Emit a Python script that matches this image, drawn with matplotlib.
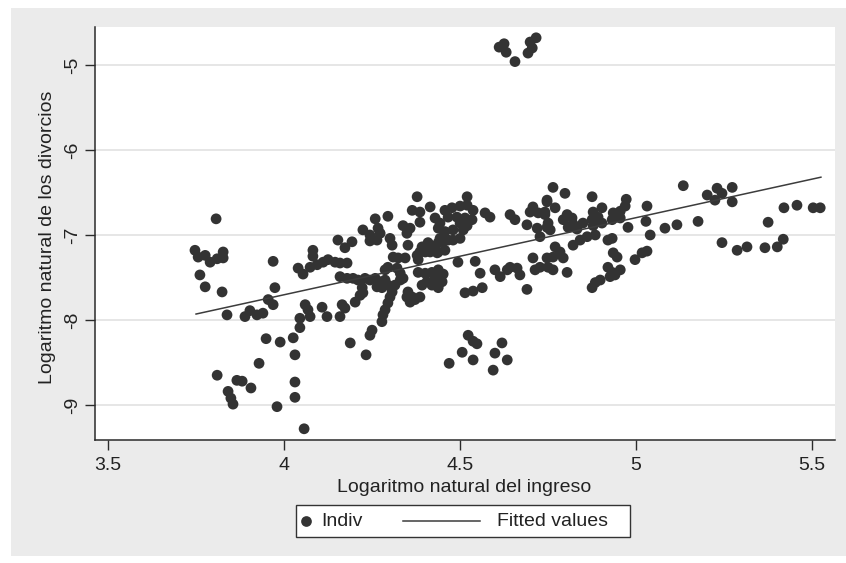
import matplotlib
matplotlib.use("Agg")
import matplotlib.pyplot as plt
from matplotlib.patches import Rectangle
from matplotlib.lines import Line2D

plt.rcParams['font.family'] = ['Liberation Sans', 'DejaVu Sans']

# ---- data ----
left_x = [3.807, 3.747, 3.756, 3.776, 3.790, 3.810, 3.827, 3.827, 3.761, 3.776,
          3.824, 3.969, 3.974, 3.955, 3.969, 3.838, 3.889, 3.903, 3.923, 3.940,
          4.040, 4.054, 4.082, 4.082, 4.094, 4.111, 4.125, 4.060, 4.068, 4.074,
          4.045, 4.108, 4.122, 4.045, 3.949, 3.989, 4.026, 4.031, 3.929, 3.810,
          3.866, 3.881, 3.906, 3.841, 3.849, 3.855, 4.031, 4.031, 3.980, 4.057]
left_y = [-6.81, -7.18, -7.26, -7.24, -7.32, -7.28, -7.20, -7.27, -7.47, -7.61,
          -7.67, -7.31, -7.62, -7.76, -7.82, -7.94, -7.96, -7.89, -7.94, -7.92,
          -7.39, -7.46, -7.18, -7.25, -7.35, -7.32, -7.29, -7.82, -7.88, -7.96,
          -7.98, -7.85, -7.96, -8.09, -8.22, -8.26, -8.21, -8.41, -8.51, -8.65,
          -8.71, -8.72, -8.80, -8.84, -8.92, -8.99, -8.73, -8.91, -9.02, -9.28]

midleft_x = [4.378, 4.364, 4.386, 4.415, 4.295, 4.259, 4.267, 4.273, 4.224, 4.244,
             4.264, 4.338, 4.358, 4.349, 4.153, 4.173, 4.193, 4.301, 4.307, 4.244,
             4.352, 4.386, 4.415, 4.423, 4.159, 4.179, 4.196, 4.145, 4.074, 4.310,
             4.324, 4.344, 4.295, 4.321, 4.287, 4.330, 4.338, 4.381, 4.159, 4.179,
             4.210, 4.230, 4.244, 4.259, 4.273, 4.287, 4.264, 4.278, 4.295, 4.307,
             4.222, 4.224, 4.301, 4.295, 4.287, 4.281, 4.278, 4.250, 4.244, 4.188,
             4.233, 4.349, 4.364, 4.358, 4.372, 4.165, 4.173, 4.159, 4.202, 4.216,
             4.378, 4.381, 4.392, 4.401, 4.352, 4.315, 4.330]
midleft_y = [-6.55, -6.71, -6.73, -6.67, -6.78, -6.81, -6.92, -6.98, -6.94, -7.00,
             -7.06, -6.89, -6.92, -6.98, -7.06, -7.15, -7.08, -7.04, -7.12, -7.07,
             -7.12, -7.20, -7.12, -7.18, -7.33, -7.33, -7.51, -7.32, -7.38, -7.26,
             -7.27, -7.27, -7.38, -7.39, -7.41, -7.45, -7.51, -7.44, -7.49, -7.51,
             -7.53, -7.51, -7.53, -7.51, -7.55, -7.53, -7.61, -7.62, -7.59, -7.67,
             -7.62, -7.68, -7.73, -7.80, -7.88, -7.94, -8.02, -8.12, -8.18, -8.27,
             -8.41, -7.73, -7.73, -7.79, -7.76, -7.82, -7.86, -7.96, -7.79, -7.71,
             -7.24, -7.29, -7.14, -7.20, -7.67, -7.59, -7.53]

mid_x = [4.520, 4.457, 4.477, 4.500, 4.520, 4.537, 4.466, 4.491, 4.514, 4.534,
         4.500, 4.520, 4.429, 4.386, 4.571, 4.585, 4.438, 4.457, 4.480, 4.509,
         4.409, 4.438, 4.452, 4.466, 4.480, 4.500, 4.438, 4.457, 4.494, 4.543,
         4.557, 4.401, 4.420, 4.438, 4.452, 4.406, 4.429, 4.449, 4.392, 4.420,
         4.438, 4.386, 4.514, 4.537, 4.563, 4.599, 4.614, 4.634, 4.642, 4.662,
         4.670, 4.707, 4.713, 4.727, 4.690, 4.642, 4.656, 4.707, 4.699, 4.722,
         4.741, 4.690, 4.719, 4.750, 4.747, 4.443, 4.443, 4.395, 4.415, 4.435]
mid_y = [-6.55, -6.71, -6.68, -6.66, -6.65, -6.71, -6.79, -6.79, -6.80, -6.82,
         -6.86, -6.89, -6.80, -6.85, -6.74, -6.79, -6.92, -6.96, -6.94, -6.94,
         -7.09, -7.09, -7.08, -7.06, -7.06, -7.04, -7.20, -7.18, -7.32, -7.31,
         -7.45, -7.45, -7.44, -7.41, -7.46, -7.55, -7.51, -7.55, -7.59, -7.59,
         -7.62, -7.73, -7.68, -7.66, -7.62, -7.41, -7.49, -7.41, -7.38, -7.39,
         -7.47, -7.27, -7.41, -7.38, -7.64, -6.76, -6.82, -6.67, -6.73, -6.74,
         -6.76, -6.88, -6.92, -6.86, -6.59, -6.86, -7.04, -7.18, -7.20, -7.21]

low_x = [4.523, 4.537, 4.548, 4.619, 4.506, 4.599, 4.634, 4.537, 4.469, 4.594]
low_y = [-8.18, -8.25, -8.28, -8.27, -8.38, -8.39, -8.47, -8.47, -8.51, -8.59]

top_x = [4.611, 4.625, 4.631, 4.656, 4.693, 4.699, 4.716, 4.705]
top_y = [-4.79, -4.75, -4.85, -4.96, -4.86, -4.73, -4.68, -4.80]

midright_x = [4.764, 4.798, 4.875, 4.972, 4.747, 4.770, 4.741, 4.747, 4.804, 4.793,
              4.818, 4.821, 4.807, 4.832, 4.878, 4.903, 4.892, 4.875, 4.903, 4.878,
              4.935, 4.955, 4.969, 4.932, 4.955, 5.031, 5.028, 4.977, 5.082, 5.116,
              4.849, 4.727, 4.756, 4.884, 4.861, 4.841, 4.821, 4.920, 4.932, 5.040,
              4.770, 4.784, 4.764, 4.793, 4.747, 4.935, 4.946, 5.031, 5.017, 4.997,
              4.750, 4.764, 4.804, 4.920, 4.932, 4.940, 4.955, 4.926, 4.898, 4.884,
              4.875]
midright_y = [-6.44, -6.51, -6.55, -6.58, -6.61, -6.68, -6.73, -6.91, -6.76, -6.82,
              -6.80, -6.87, -6.91, -6.93, -6.73, -6.68, -6.79, -6.82, -6.86, -6.89,
              -6.74, -6.72, -6.66, -6.82, -6.80, -6.66, -6.84, -6.91, -6.92, -6.88,
              -6.86, -7.02, -6.94, -7.00, -7.02, -7.06, -7.12, -7.06, -7.04, -7.00,
              -7.14, -7.20, -7.26, -7.27, -7.27, -7.21, -7.26, -7.19, -7.21, -7.29,
              -7.38, -7.41, -7.44, -7.38, -7.44, -7.47, -7.41, -7.49, -7.53, -7.56,
              -7.62]

right_x = [5.134, 5.202, 5.230, 5.244, 5.224, 5.273, 5.273, 5.176, 5.375, 5.420,
           5.457, 5.503, 5.523, 5.244, 5.287, 5.315, 5.366, 5.401, 5.418]
right_y = [-6.42, -6.53, -6.45, -6.51, -6.59, -6.44, -6.61, -6.84, -6.85, -6.68,
           -6.65, -6.68, -6.68, -7.09, -7.18, -7.14, -7.15, -7.14, -7.05]

fit_x = [3.75, 5.525]
fit_y = [-7.93, -6.32]

x_ticks = [3.5, 4, 4.5, 5, 5.5]
x_tick_labels = ["3.5", "4", "4.5", "5", "5.5"]
y_ticks = [-9, -8, -7, -6, -5]
y_tick_labels = ["-9", "-8", "-7", "-6", "-5"]

x_label = "Logaritmo natural del ingreso"
y_label = "Logaritmo natural de los divorcios"
legend_labels = ["Indiv", "Fitted values"]

# ---- figure ----
W, H = 846, 563
fig = plt.figure(figsize=(W / 100, H / 100), dpi=100)
fig.patch.set_facecolor("white")
fig.add_artist(Rectangle((11 / W, 1 - 556 / H), (W - 11) / W, (556 - 8) / H,
                         transform=fig.transFigure, facecolor="#ebebeb",
                         edgecolor="none", zorder=0))

ax = fig.add_axes([95 / W, 1 - 440 / H, (835 - 95) / W, (440 - 27) / H])
ax.set_facecolor("white")
ax.set_zorder(1)

xs = left_x + midleft_x + mid_x + low_x + top_x + midright_x + right_x
ys = left_y + midleft_y + mid_y + low_y + top_y + midright_y + right_y
dot_color = "#333333"
ax.scatter(xs, ys, s=60, color=dot_color, edgecolors="none", zorder=3)
ax.plot(fit_x, fit_y, color="#3c3c3c", lw=1.1, zorder=4)

ax.set_xlim(3.463, 5.565)
ax.set_ylim(-9.412, -4.553)
ax.set_xticks(x_ticks)
ax.set_xticklabels(x_tick_labels)
ax.set_yticks(y_ticks)
ax.set_yticklabels(y_tick_labels, rotation=90, va="center")

for s in ("top", "right"):
    ax.spines[s].set_visible(False)
for s in ("left", "bottom"):
    ax.spines[s].set_color("#2a2a2a")
    ax.spines[s].set_linewidth(1.1)

ax.tick_params(axis="both", direction="out", length=7, width=1.0, color="#2a2a2a",
               labelsize=14, labelcolor="#222222", pad=5)
ax.tick_params(axis="y", pad=3)
ax.grid(axis="y", color="#e4e4e4", lw=1.3, zorder=0)
ax.set_axisbelow(True)

fig.text(464 / W, 1 - 487 / H, x_label, ha="center", va="center",
         fontsize=14, color="#222222")
fig.text(48 / W, 1 - 237 / H, y_label, ha="center", va="center",
         rotation=90, fontsize=14, color="#222222")

# legend box (Stata style)
fig.add_artist(Rectangle((296 / W, 1 - 537 / H), (630 - 296) / W, (537 - 505) / H,
                         transform=fig.transFigure, facecolor="white",
                         edgecolor="#333333", lw=1.0, zorder=2))
ly = 1 - 521 / H
fig.add_artist(Line2D([306 / W], [ly], transform=fig.transFigure, marker="o",
                      markersize=7.7, color=dot_color, markeredgewidth=0, zorder=3))
fig.text(321 / W, ly, legend_labels[0], ha="left", va="center", fontsize=14,
         color="#222222", zorder=3)
fig.add_artist(Line2D([403 / W, 480 / W], [ly, ly], transform=fig.transFigure,
                      color="#3c3c3c", lw=1.1, zorder=3))
fig.text(497 / W, ly, legend_labels[1], ha="left", va="center", fontsize=14,
         color="#222222", zorder=3)

fig.savefig("out.png", dpi=100, facecolor=fig.get_facecolor())
